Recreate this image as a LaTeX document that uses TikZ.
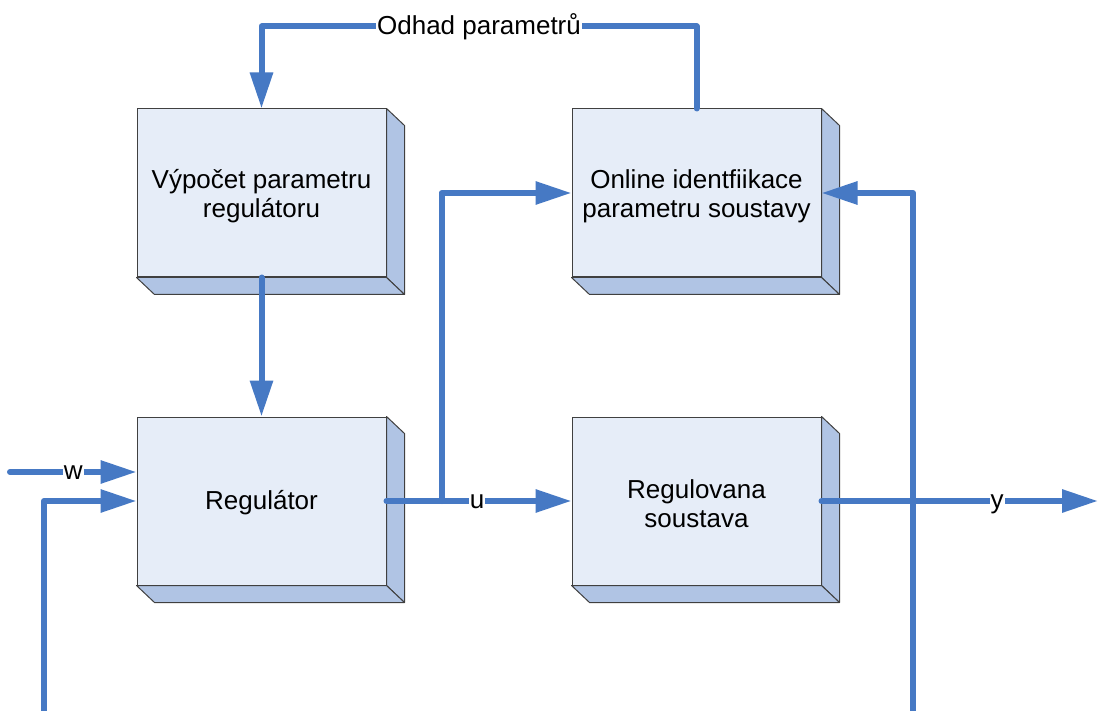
\documentclass[tikz,border=0pt]{standalone}
\usepackage{fontspec}
\setmainfont{Liberation Sans}
\usetikzlibrary{arrows.meta}
\definecolor{faceblue}{RGB}{230,237,248}
\definecolor{sideblue}{RGB}{176,196,228}
\definecolor{flowblue}{RGB}{70,121,196}
\definecolor{edgegray}{RGB}{64,64,64}
\tikzset{
  blk/.style={draw=edgegray, line width=1pt, fill=faceblue,
    minimum width=249pt, minimum height=168pt, inner sep=0pt},
  blktext/.style={align=center, inner sep=0pt, font=\fontsize{26}{29}\selectfont},
  blkside/.style={draw=edgegray, line width=1pt, fill=sideblue, line join=round},
  flow/.style={draw=flowblue, line width=6pt, line cap=round, line join=round},
  tip/.style={-{Triangle[length=36pt,width=22pt]}},
  lbl/.style={fill=white, inner sep=1pt, text height=14pt, text depth=0pt,
    font=\fontsize{26}{29}\selectfont},
  biglbl/.style={lbl, text height=16pt}
}
% bevel faces on the right and bottom of a block
\newcommand{\bevel}[1]{%
  \path[blkside] (#1.north east) -- ++(18,17)
    -- ([shift={(18,17)}]#1.south east) -- (#1.south east) -- cycle;
  \path[blkside] (#1.south west) -- (#1.south east)
    -- ([shift={(18,17)}]#1.south east) -- ([shift={(18,17)}]#1.south west) -- cycle;
}
\begin{document}
\begin{tikzpicture}[x=1pt, y=-1pt]
\useasboundingbox (0,0) rectangle (1100,711);
\clip (0,0) rectangle (1100,711);
\fill[white] (0,0) rectangle (1100,711);

% blocks
\node[blk] (calc) at (261.5,193) {};
\node[blk] (ident) at (696.5,193) {};
\node[blk] (reg) at (261.5,501) {};
\node[blk] (plant) at (696.5,501) {};
\bevel{calc}
\bevel{ident}
\bevel{reg}
\bevel{plant}
\node[blktext] (calctxt) at ([shift={(0,3)}]calc.center) {Výpočet parametru\\regulátoru};
\node[blktext] (identtxt) at ([shift={(0,3)}]ident.center) {Online identfiikace\\parametru soustavy};
\node[blktext] (regtxt) at ([shift={(0,2)}]reg.center) {Regulátor};
\node[blktext] (planttxt) at ([shift={(0,3)}]plant.center) {Regulovana\\soustava};

% free ends and branch points
\coordinate (win) at (10,472);
\coordinate (ubr) at (441.5,501);
\coordinate (yout) at (1098,501);
\coordinate (fbr) at (913,716);
\coordinate (fbl) at (44,716);

% parameter estimate loop
\draw[flow,tip] (ident.north) -- ++(0,-82)
  -| node[biglbl,pos=0.25] {Odhad parametrů} (calc.north);
\draw[flow,tip] (calc.south) -- (reg.north);

% inputs of the controller
\draw[flow,tip] (win) -- node[lbl] {w} (reg.west |- win);
\draw[flow,tip] (fbl) |- (reg.west);

% control signal u
\draw[flow,tip] (reg.east) -- node[lbl,pos=0.49] {u} (plant.west);
\draw[flow,tip] (ubr) |- (ident.west);

% output y and its feedback
\draw[flow,tip] (plant.east) -- node[lbl,pos=0.635] {y} (yout);
\draw[flow,tip] (fbl) -- (fbr) |- (ident.east);
\end{tikzpicture}
\end{document}
